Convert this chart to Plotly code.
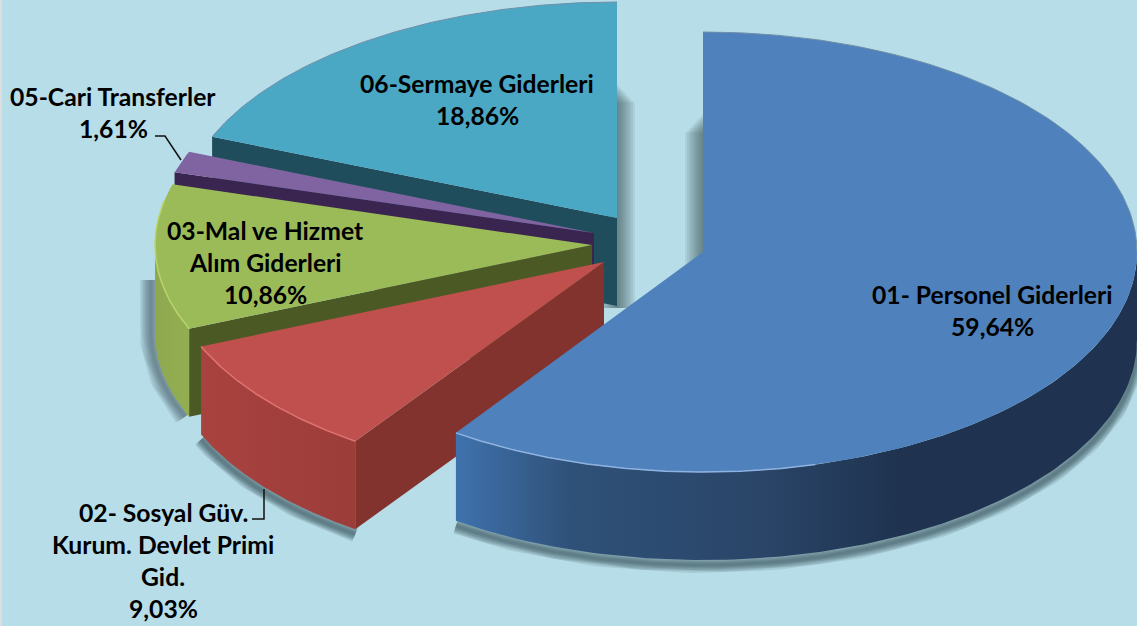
import numpy as np
import plotly.graph_objects as go

# ---- data ----
categories = ["01- Personel Giderleri", "02- Sosyal Güv. Kurum. Devlet Primi Gid.",
              "03-Mal ve Hizmet Alım Giderleri", "05-Cari Transferler", "06-Sermaye Giderleri"]
values = [59.64, 9.03, 10.86, 1.61, 18.86]
label_lines = [["01- Personel Giderleri"],
               ["02- Sosyal Güv.", "Kurum. Devlet Primi", "Gid."],
               ["03-Mal ve Hizmet", "Alım Giderleri"],
               ["05-Cari Transferler"],
               ["06-Sermaye Giderleri"]]

# ---- style / layout ----
W, H = 1137, 626
BG = "#B7DDE8"
top_col = ["#4F81BD", "#C0504D", "#9BBB59", "#8064A2", "#4AA8C4"]
edge_col = [None, "#83332E", "#4B5A24", "#3A2450", "#1F4D5C"]
wall_scale = [
    [[0, "#3F72AD"], [0.17, "#2F5178"], [0.45, "#2A4568"], [0.65, "#1F3350"], [1, "#1F3350"]],
    [[0, "#A8423F"], [1, "#9C3D3A"]],
    [[0, "#8EA84F"], [1, "#93AE52"]],
    None, None]
rim_col = ["#8FB3E0", "#E0736F", "#BAD46C", None, None]
centers = [(703, 252), (604, 262), (592, 245), (594, 233), (617, 218)]
radii = [(434, 220), (437, 218), (437, 216), (437, 216), (437, 216)]
DEPTH = 88
label_pos = [(992, 294), (163, 512), (265, 230), (113, 96), (477, 83)]
LINE = 32.3
FONT = dict(family="Lato, Carlito, Calibri, sans-serif", size=24.7, color="#000000")

fig = go.Figure()


def arc(i, t0, t1, n=120):
    t = np.radians(np.linspace(t0, t1, n))
    (cx, cy), (a, b) = centers[i], radii[i]
    return cx + a * np.sin(t), cy - b * np.cos(t)


def poly(xs, ys, color=None, grad=None, line=None, lw=0):
    kw = dict(fillcolor=color) if grad is None else dict(
        fillgradient=dict(type="horizontal", colorscale=grad))
    fig.add_trace(go.Scatter(x=list(xs), y=list(ys), mode="lines", fill="toself",
                             line=dict(width=lw, color=line or "rgba(0,0,0,0)"),
                             hoverinfo="skip", showlegend=False, **kw))


def stroke(xs, ys, color, w):
    fig.add_trace(go.Scatter(x=list(xs), y=list(ys), mode="lines",
                             line=dict(width=w, color=color, shape="linear"),
                             hoverinfo="skip", showlegend=False))


def soft(xs, ys, widest=30, alpha=0.085, layers=7):
    for w in np.linspace(widest, 3, layers):
        stroke(xs, ys, f"rgba(45,65,75,{alpha})", float(w))


def soft_strip(x, y0, y1, widest=36, alpha=0.085, layers=9):
    # vertical shadow whose upper end fades: narrower layers start lower
    for k, w in enumerate(np.linspace(widest, 3, layers)):
        stroke([x, x], [y0 + (layers - 1 - k) * 1.2 + (w < 12) * 0 - k * 1.0 + 8, y1],
               f"rgba(45,65,75,{alpha})", float(w))


# angular spans, clockwise from the top, straight from the values
edges = np.concatenate([[0], np.cumsum(values) * 3.6])
spans = [(edges[i], edges[i + 1]) for i in range(len(values))]

# soft shadows beneath everything
tx, ty = centers[4]
soft_strip(tx, ty - 133, ty + 90)
bx, by = centers[0]
soft_strip(bx, by - 137, by + 30)
for i in [1, 0]:
    t0, t1 = spans[i]
    t0 = max(t0, 90)
    t1 = min(t1, 270)
    ax, ay = arc(i, t0, t1)
    soft(ax, ay + DEPTH + 5, widest=16, alpha=0.12)
ax, ay = arc(2, spans[2][0], 270)
soft(np.r_[ax, ax[-1]] - 4, np.r_[ay + DEPTH, ay[-1] + 35], widest=22, alpha=0.1)

# slices painted back to front
for i in [4, 3, 2, 1, 0]:
    t0, t1 = spans[i]
    (cx, cy) = centers[i]
    # radial wall on the leading edge
    if edge_col[i]:
        sx, sy = arc(i, t0, t0, 1)
        poly([cx, sx[0], sx[0], cx, cx], [cy, sy[0], sy[0] + DEPTH, cy + DEPTH, cy], edge_col[i])
    # outer wall
    if wall_scale[i]:
        wx, wy = arc(i, max(t0, 90), min(t1, 270))
        poly(np.r_[wx, wx[::-1], wx[0]], np.r_[wy, wy[::-1] + DEPTH, wy[0]], grad=wall_scale[i])
    # top surface
    ax, ay = arc(i, t0, t1)
    poly(np.r_[cx, ax, cx], np.r_[cy, ay, cy], top_col[i])
    # thin rim
    if i in (0, 4):
        rx, ry = arc(i, t0 if i == 4 else 0, t1 if i == 4 else 90)
        stroke(rx, ry, "#6F8FA8", 1)
    if rim_col[i]:
        rx, ry = arc(i, max(t0, 165 if i == 0 else 100), min(t1, 282))
        stroke(rx, ry, rim_col[i], 1.5)

# leader lines
stroke([155, 165, 181], [136, 136, 160], "#111111", 1.5)
stroke([264, 264, 252], [489, 519, 519], "#111111", 1.5)

# labels
for pos, lines, v in zip(label_pos, label_lines, values):
    texts = lines + [f"{v:.2f}%".replace(".", ",")]
    for k, s in enumerate(texts):
        fig.add_annotation(x=pos[0], y=pos[1] + k * LINE, text=f"<b>{s}</b>", showarrow=False,
                           font=FONT, xanchor="center", yanchor="middle")

fig.add_shape(type="rect", x0=0, x1=2, y0=0, y1=H, fillcolor="#DDDDDD", line_width=0)
fig.update_layout(width=W, height=H, margin=dict(l=0, r=0, t=0, b=0),
                  paper_bgcolor=BG, plot_bgcolor=BG,
                  xaxis=dict(range=[0, W], visible=False),
                  yaxis=dict(range=[H, 0], visible=False), showlegend=False)
fig.write_html("out.html", config=dict(displayModeBar=False),
               post_script="document.body.style.margin='0';document.documentElement.style.overflow='hidden';")
